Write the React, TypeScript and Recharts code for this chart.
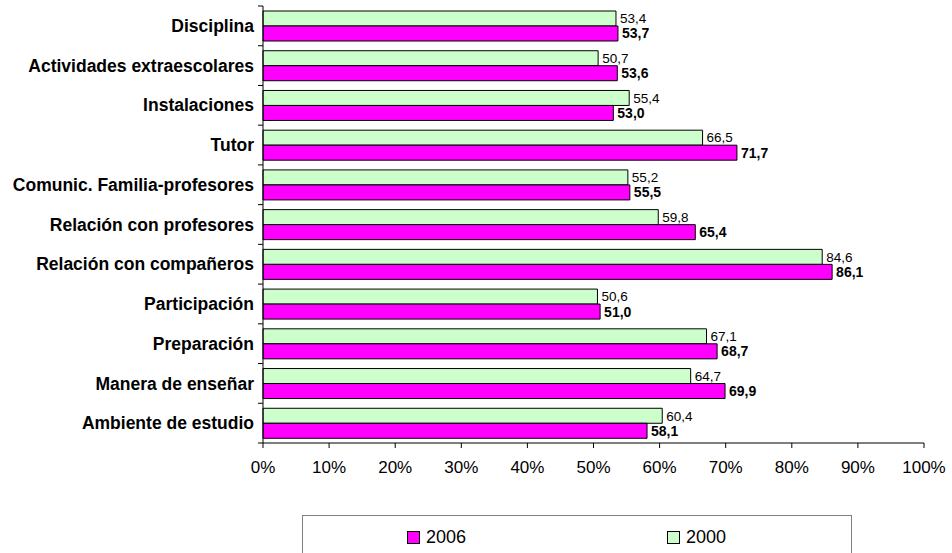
import { BarChart, Bar, XAxis, YAxis, Legend, LabelList } from "recharts";

const categories = [
  "Disciplina",
  "Actividades extraescolares",
  "Instalaciones",
  "Tutor",
  "Comunic. Familia-profesores",
  "Relación con profesores",
  "Relación con compañeros",
  "Participación",
  "Preparación",
  "Manera de enseñar",
  "Ambiente de estudio",
];

const values2000 = [53.4, 50.7, 55.4, 66.5, 55.2, 59.8, 84.6, 50.6, 67.1, 64.7, 60.4];
const values2006 = [53.7, 53.6, 53.0, 71.7, 55.5, 65.4, 86.1, 51.0, 68.7, 69.9, 58.1];

const xTicks = [0, 10, 20, 30, 40, 50, 60, 70, 80, 90, 100];

const CHART_W = 952;
const CHART_H = 553;
const MARGIN = { top: 6, right: 28, bottom: 0, left: 0 };
const X_AXIS_H = 40;
const LEGEND_H = 70;
const BAND = (CHART_H - MARGIN.top - X_AXIS_H - LEGEND_H) / categories.length;

const FONT = "'Liberation Sans', Arial, sans-serif";
const PINK = "#FF00FF";
const GREEN = "#CCFFCC";

const data = categories.map((name, i) => ({
  name,
  y2000: values2000[i],
  y2006: values2006[i],
}));

const fmt = (v: number) => v.toFixed(1).replace(".", ",");

// category labels, with the tick marks on the band edges like Excel does
function CategoryTick(props: any) {
  const { x, y, payload, index } = props;
  const axisX = x + 9;
  const half = BAND / 2;
  return (
    <g>
      <line x1={axisX - 5} x2={axisX} y1={y - half} y2={y - half} stroke="#000" />
      {index === categories.length - 1 && (
        <line x1={axisX - 5} x2={axisX} y1={y + half} y2={y + half} stroke="#000" />
      )}
      <text
        x={x}
        y={y}
        dy="0.35em"
        textAnchor="end"
        fontFamily={FONT}
        fontWeight="bold"
        fontSize={17.5}
        fill="#000"
      >
        {payload.value}
      </text>
    </g>
  );
}

function LegendBox() {
  const items = [
    { label: "2006", color: PINK },
    { label: "2000", color: GREEN },
  ];
  return (
    <div style={{ position: "relative", height: LEGEND_H }}>
      <div
        style={{
          position: "absolute",
          left: 302,
          top: 32,
          width: 550,
          height: 45,
          border: "1px solid #808080",
          boxSizing: "border-box",
          fontFamily: FONT,
          fontSize: 18,
          color: "#000",
        }}
      >
        {items.map((it, i) => (
          <div
            key={it.label}
            style={{
              position: "absolute",
              left: i === 0 ? 104 : 364,
              top: 11,
              display: "flex",
              alignItems: "center",
            }}
          >
            <span
              style={{
                display: "inline-block",
                width: 11,
                height: 11,
                background: it.color,
                border: "1px solid #000",
                marginRight: 6,
              }}
            />
            <span>{it.label}</span>
          </div>
        ))}
      </div>
    </div>
  );
}

export default function App() {
  return (
    <div
      style={{
        position: "absolute",
        left: 0,
        top: 0,
        width: CHART_W,
        height: CHART_H,
        background: "#fff",
        overflow: "hidden",
      }}
    >
      <BarChart
        width={CHART_W}
        height={CHART_H}
        data={data}
        layout="vertical"
        margin={MARGIN}
        barGap={0}
      >
        <XAxis
          type="number"
          domain={[0, 100]}
          ticks={xTicks}
          tickFormatter={(v: number) => `${v}%`}
          height={X_AXIS_H}
          tickSize={5}
          tickMargin={13}
          axisLine={{ stroke: "#000" }}
          tickLine={{ stroke: "#000" }}
          tick={{ fill: "#000", fontSize: 17, fontFamily: FONT }}
        />
        <YAxis
          type="category"
          dataKey="name"
          width={263}
          tickSize={5}
          tickMargin={4}
          interval={0}
          axisLine={{ stroke: "#000" }}
          tickLine={false}
          tick={<CategoryTick />}
        />
        <Legend verticalAlign="bottom" height={LEGEND_H} content={<LegendBox />} />
        <Bar dataKey="y2000" name="2000" fill={GREEN} stroke="#000" barSize={15} isAnimationActive={false}>
          <LabelList
            dataKey="y2000"
            position="right"
            offset={4}
            formatter={(v: any) => fmt(Number(v))}
            style={{ fontFamily: FONT, fontSize: 13.5, fill: "#000" }}
          />
        </Bar>
        <Bar dataKey="y2006" name="2006" fill={PINK} stroke="#000" barSize={15} isAnimationActive={false}>
          <LabelList
            dataKey="y2006"
            position="right"
            offset={4}
            formatter={(v: any) => fmt(Number(v))}
            style={{ fontFamily: FONT, fontSize: 14, fontWeight: "bold", fill: "#000" }}
          />
        </Bar>
      </BarChart>
    </div>
  );
}
